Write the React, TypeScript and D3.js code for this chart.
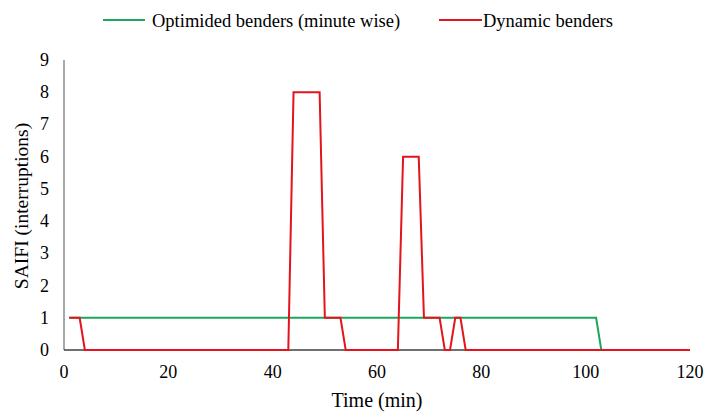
import React from "react";
import * as d3 from "d3";

const optTime = [1, 2, 3, 102, 103, 120];
const optValues = [1, 1, 1, 1, 0, 0];
const dynTime = [1, 2, 3, 4, 43, 44, 49, 50, 53, 54, 64, 65, 68, 69, 72, 73, 74, 75, 76, 77, 120];
const dynValues = [1, 1, 1, 0, 0, 8, 8, 1, 1, 0, 0, 6, 6, 1, 1, 0, 0, 1, 1, 0, 0];
const xTicks = [0, 20, 40, 60, 80, 100, 120];
const yTicks = [0, 1, 2, 3, 4, 5, 6, 7, 8, 9];
const seriesNames = ["Optimided benders (minute wise)", "Dynamic benders"];
const colors = ["#1fa65e", "#e3141b"];

export default function App() {
  const W = 704, H = 412;
  const x = d3.scaleLinear().domain([0, 120]).range([64, 690]);
  const y = d3.scaleLinear().domain([0, 9]).range([350, 60]);
  const line = d3.line<[number, number]>().x(d => x(d[0])).y(d => y(d[1]));
  const opt: [number, number][] = optTime.map((t, i) => [t, optValues[i]]);
  const dyn: [number, number][] = dynTime.map((t, i) => [t, dynValues[i]]);
  const font = "Liberation Serif";
  return (
    <svg width={W} height={H} style={{ position: "absolute", left: 0, top: 0 }} fontFamily={font}>
      <rect width={W} height={H} fill="#fff" />
      <line x1={x(0)} x2={x(0)} y1={y(9)} y2={y(0)} stroke="#8c8c8c" strokeWidth={1.5} />
      <line x1={x(0)} x2={x(120)} y1={y(0)} y2={y(0)} stroke="#404040" strokeWidth={1.5} />
      {yTicks.map(t => (
        <text key={t} x={49} y={y(t) + 6} textAnchor="end" fontSize={18} fill="#000">{t}</text>
      ))}
      {xTicks.map(t => (
        <text key={t} x={x(t)} y={378} textAnchor="middle" fontSize={18} fill="#000">{t}</text>
      ))}
      <path d={line(opt) || ""} fill="none" stroke={colors[0]} strokeWidth={2} />
      <path d={line(dyn) || ""} fill="none" stroke={colors[1]} strokeWidth={2} />
      <text x={377} y={407} textAnchor="middle" fontSize={20} fill="#000">Time (min)</text>
      <text transform={`translate(28,206) rotate(-90)`} textAnchor="middle" fontSize={19.5} fill="#000">SAIFI (interruptions)</text>
      <line x1={103} x2={145} y1={20} y2={20} stroke={colors[0]} strokeWidth={2} />
      <text x={152} y={26.5} fontSize={18.5} fill="#000">{seriesNames[0]}</text>
      <line x1={439} x2={482} y1={20} y2={20} stroke={colors[1]} strokeWidth={2} />
      <text x={483} y={26.5} fontSize={18.5} fill="#000">{seriesNames[1]}</text>
    </svg>
  );
}
